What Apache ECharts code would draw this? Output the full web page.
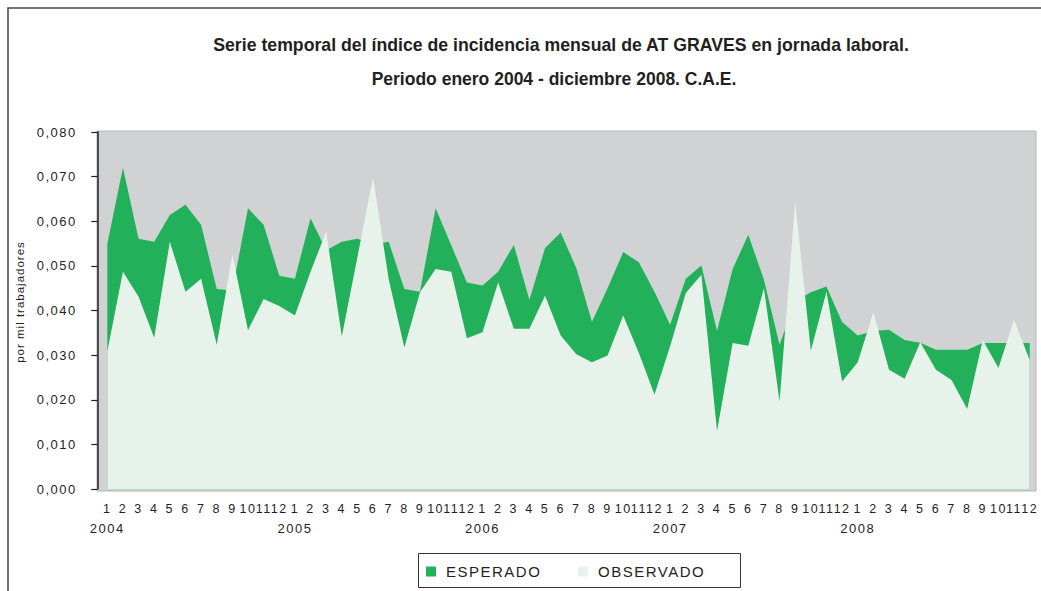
<!DOCTYPE html>
<html><head><meta charset="utf-8">
<script src="https://cdn.jsdelivr.net/npm/echarts@6/dist/echarts.min.js"></script>
<style>
html,body{margin:0;padding:0;background:#fff}
#c{width:1041px;height:591px}
#c svg text{letter-spacing:1.5px}
</style>
</head><body><div id="c"></div><script>
const titleLine1 = 'Serie temporal del índice de incidencia mensual de AT GRAVES en jornada laboral.';
const titleLine2 = 'Periodo enero 2004 - diciembre 2008. C.A.E.';
const yAxisTitle = 'por mil trabajadores';
const monthLabels = ['1','2','3','4','5','6','7','8','9','10','11','12'];
const years = ['2004','2005','2006','2007','2008'];
const seriesNames = ['ESPERADO','OBSERVADO'];
const esperado = [
  0.0549,0.0720,0.0561,0.0554,0.0614,0.0637,0.0592,0.0448,0.0445,0.0629,0.0592,0.0478,
  0.0471,0.0607,0.0535,0.0554,0.0561,0.0548,0.0554,0.0448,0.0442,0.0629,0.0546,0.0463,
  0.0456,0.0487,0.0547,0.0424,0.0540,0.0575,0.0495,0.0375,0.0450,0.0531,0.0508,0.0442,
  0.0368,0.0471,0.0501,0.0354,0.0493,0.0570,0.0469,0.0323,0.0420,0.0441,0.0454,0.0374,
  0.0344,0.0354,0.0357,0.0334,0.0328,0.0312,0.0312,0.0312,0.0327,0.0327,0.0327,0.0327
];
const observado = [
  0.0308,0.0487,0.0431,0.0339,0.0554,0.0442,0.0471,0.0323,0.0525,0.0356,0.0426,0.0410,
  0.0389,0.0487,0.0577,0.0342,0.0520,0.0698,0.0470,0.0317,0.0441,0.0493,0.0487,0.0338,
  0.0351,0.0463,0.0359,0.0359,0.0433,0.0344,0.0302,0.0284,0.0299,0.0389,0.0305,0.0212,
  0.0320,0.0439,0.0480,0.0130,0.0327,0.0321,0.0450,0.0196,0.0644,0.0310,0.0442,0.0241,
  0.0284,0.0396,0.0267,0.0247,0.0329,0.0267,0.0244,0.0179,0.0334,0.0271,0.0380,0.0289
];

const categories = [];
years.forEach(y => monthLabels.forEach(m => categories.push(y + '|' + m)));

const FONT = 'Liberation Sans, Arial, sans-serif';
const TXT = '#231f20';
const GREEN = '#22b15a';
const LIGHT = '#e7f3ea';

const chart = echarts.init(document.getElementById('c'), null, {renderer: 'svg'});
chart.setOption({
  animation: false,
  backgroundColor: '#ffffff',
  title: [
    {text: titleLine1, left: 561, top: 36, textAlign: 'center', padding: 0,
     textStyle: {fontFamily: FONT, fontSize: 17.7, fontWeight: 'bold', color: TXT}},
    {text: titleLine2, left: 554, top: 70, textAlign: 'center', padding: 0,
     textStyle: {fontFamily: FONT, fontSize: 17.5, fontWeight: 'bold', color: TXT}}
  ],
  graphic: [
    {type: 'rect', z: 0, shape: {x: 97, y: 131, width: 939, height: 360},
     style: {fill: '#d1d2d4', stroke: '#b4b5b7', lineWidth: 1}},
    {type: 'polyline', z: 0, shape: {points: [[8, 591], [8, 8], [1041, 8]]},
     style: {fill: null, stroke: '#444', lineWidth: 1.5}},
    {type: 'rect', z: 0, shape: {x: 418.5, y: 553.5, width: 322, height: 34},
     style: {fill: null, stroke: '#333', lineWidth: 1}},
    {type: 'text', z: 0, x: 20, y: 302, rotation: Math.PI / 2,
     style: {text: yAxisTitle, font: '11.5px ' + FONT, fill: TXT, align: 'center', verticalAlign: 'middle'}}
  ],
  legend: [
    {data: [seriesNames[0]], left: 426, top: 564, padding: 0, icon: 'rect', itemWidth: 10, itemHeight: 10,
     textStyle: {fontFamily: FONT, fontSize: 15, color: TXT, padding: [0, 0, 0, 5]}},
    {data: [seriesNames[1]], left: 578, top: 564, padding: 0, icon: 'rect', itemWidth: 10, itemHeight: 10,
     textStyle: {fontFamily: FONT, fontSize: 15, color: TXT, padding: [0, 0, 0, 5]}}
  ],
  grid: {left: 107.3, right: 11.3, top: 132, bottom: 102, containLabel: false},
  xAxis: [
    {type: 'category', data: categories, boundaryGap: false,
     axisLine: {lineStyle: {color: '#b5dcc3', width: 1}},
     axisTick: {show: false},
     axisLabel: {interval: 0, margin: 13, fontFamily: FONT, fontSize: 12.5, color: TXT,
       formatter: v => v.split('|')[1]},
     splitLine: {show: false}},
    {type: 'category', data: categories, boundaryGap: false, position: 'bottom',
     axisLine: {show: false}, axisTick: {show: false},
     axisLabel: {interval: 0, margin: 33, fontFamily: FONT, fontSize: 13, color: TXT,
       formatter: v => { const p = v.split('|'); return p[1] === monthLabels[0] ? p[0] : ''; }},
     splitLine: {show: false}}
  ],
  yAxis: {
    type: 'value', min: 0, max: 0.08, interval: 0.01, offset: 10,
    axisLine: {show: true, lineStyle: {color: '#231f20', width: 1.5}},
    axisTick: {show: true, length: 6, lineStyle: {color: '#231f20', width: 1.2}},
    axisLabel: {margin: 20.5, fontFamily: FONT, fontSize: 13, color: TXT, padding: [5, 0, 0, 0],
      formatter: v => v.toFixed(3).replace('.', ',')},
    splitLine: {show: false}
  },
  series: [
    {name: seriesNames[0], type: 'line', data: esperado, xAxisIndex: 0, symbol: 'none',
     color: GREEN, lineStyle: {width: 0, opacity: 0}, areaStyle: {color: GREEN, opacity: 1}, z: 2},
    {name: seriesNames[1], type: 'line', data: observado, xAxisIndex: 0, symbol: 'none',
     color: LIGHT, lineStyle: {width: 0, opacity: 0}, areaStyle: {color: LIGHT, opacity: 1}, z: 3}
  ]
});
document.querySelectorAll('#c svg text').forEach(t => {
  const s = t.textContent;
  if (s === titleLine1 || s === titleLine2) t.style.letterSpacing = '0px';
  if (s === yAxisTitle) t.style.letterSpacing = '1px';
});
</script></body></html>
